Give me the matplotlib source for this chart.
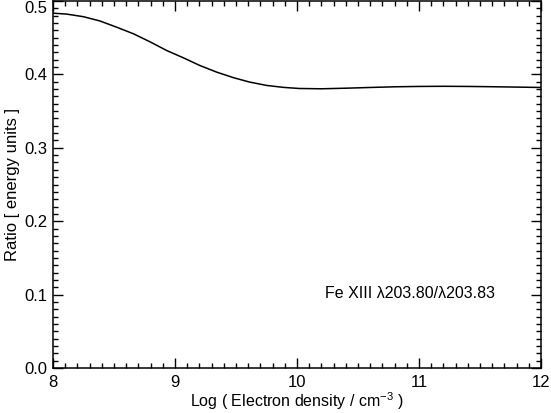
import matplotlib
matplotlib.use("Agg")
import matplotlib.pyplot as plt
from matplotlib.ticker import MultipleLocator, FormatStrFormatter

plt.rcParams['font.family'] = ['Liberation Sans', 'DejaVu Sans']
plt.rcParams['mathtext.fontset'] = 'custom'
plt.rcParams['mathtext.rm'] = 'Liberation Sans'

log_density = [8.0, 8.11, 8.25, 8.385, 8.52, 8.66, 8.80, 8.93, 9.07, 9.20, 9.34, 9.48,
               9.61, 9.75, 9.89, 10.02, 10.2, 10.4, 10.6, 10.8, 11.0, 11.2, 11.4, 11.6,
               11.8, 12.0]
ratio = [0.4834, 0.4822, 0.4786, 0.4728, 0.4644, 0.4553, 0.4440, 0.4327, 0.4225, 0.4124,
         0.4032, 0.3955, 0.3896, 0.3850, 0.3823, 0.3808, 0.3804, 0.3812, 0.3822, 0.3831,
         0.3836, 0.3838, 0.3836, 0.3832, 0.3827, 0.3822]

label_text = "Fe XIII \u03bb203.80/\u03bb203.83"

fig = plt.figure(figsize=(5.51, 4.13), dpi=100)
ax = fig.add_axes([53/551, 1 - 368/413, 488/551, 367/413])
ax.plot(log_density, ratio, color='black', lw=1.1)
ax.set_xlim(8, 12)
ax.set_ylim(0, 0.5)
ax.xaxis.set_major_locator(MultipleLocator(1))
ax.xaxis.set_minor_locator(MultipleLocator(0.1))
ax.yaxis.set_major_locator(MultipleLocator(0.1))
ax.yaxis.set_minor_locator(MultipleLocator(0.01))
ax.yaxis.set_major_formatter(FormatStrFormatter('%.1f'))
ax.tick_params(which='both', direction='in', top=True, right=True, width=1.0, labelsize=12)
ax.tick_params(which='major', length=7)
ax.tick_params(which='minor', length=3.5)
ax.tick_params(axis='x', pad=5)
ax.tick_params(axis='y', pad=4)
for s in ax.spines.values():
    s.set_linewidth(1.1)
ax.set_xlabel("Log ( Electron density / cm$^{-3}$ )", fontsize=11.5, labelpad=0)
ax.set_ylabel("Ratio [ energy units ]", fontsize=12, labelpad=3)
ax.text(10.23, 0.102, label_text, fontsize=11.5, va='center', ha='left')

fig.canvas.draw()
for lbl in ax.get_yticklabels():
    if lbl.get_text() == '0.5':
        lbl.set_verticalalignment('top')
fig.savefig("out.png", dpi=100)
